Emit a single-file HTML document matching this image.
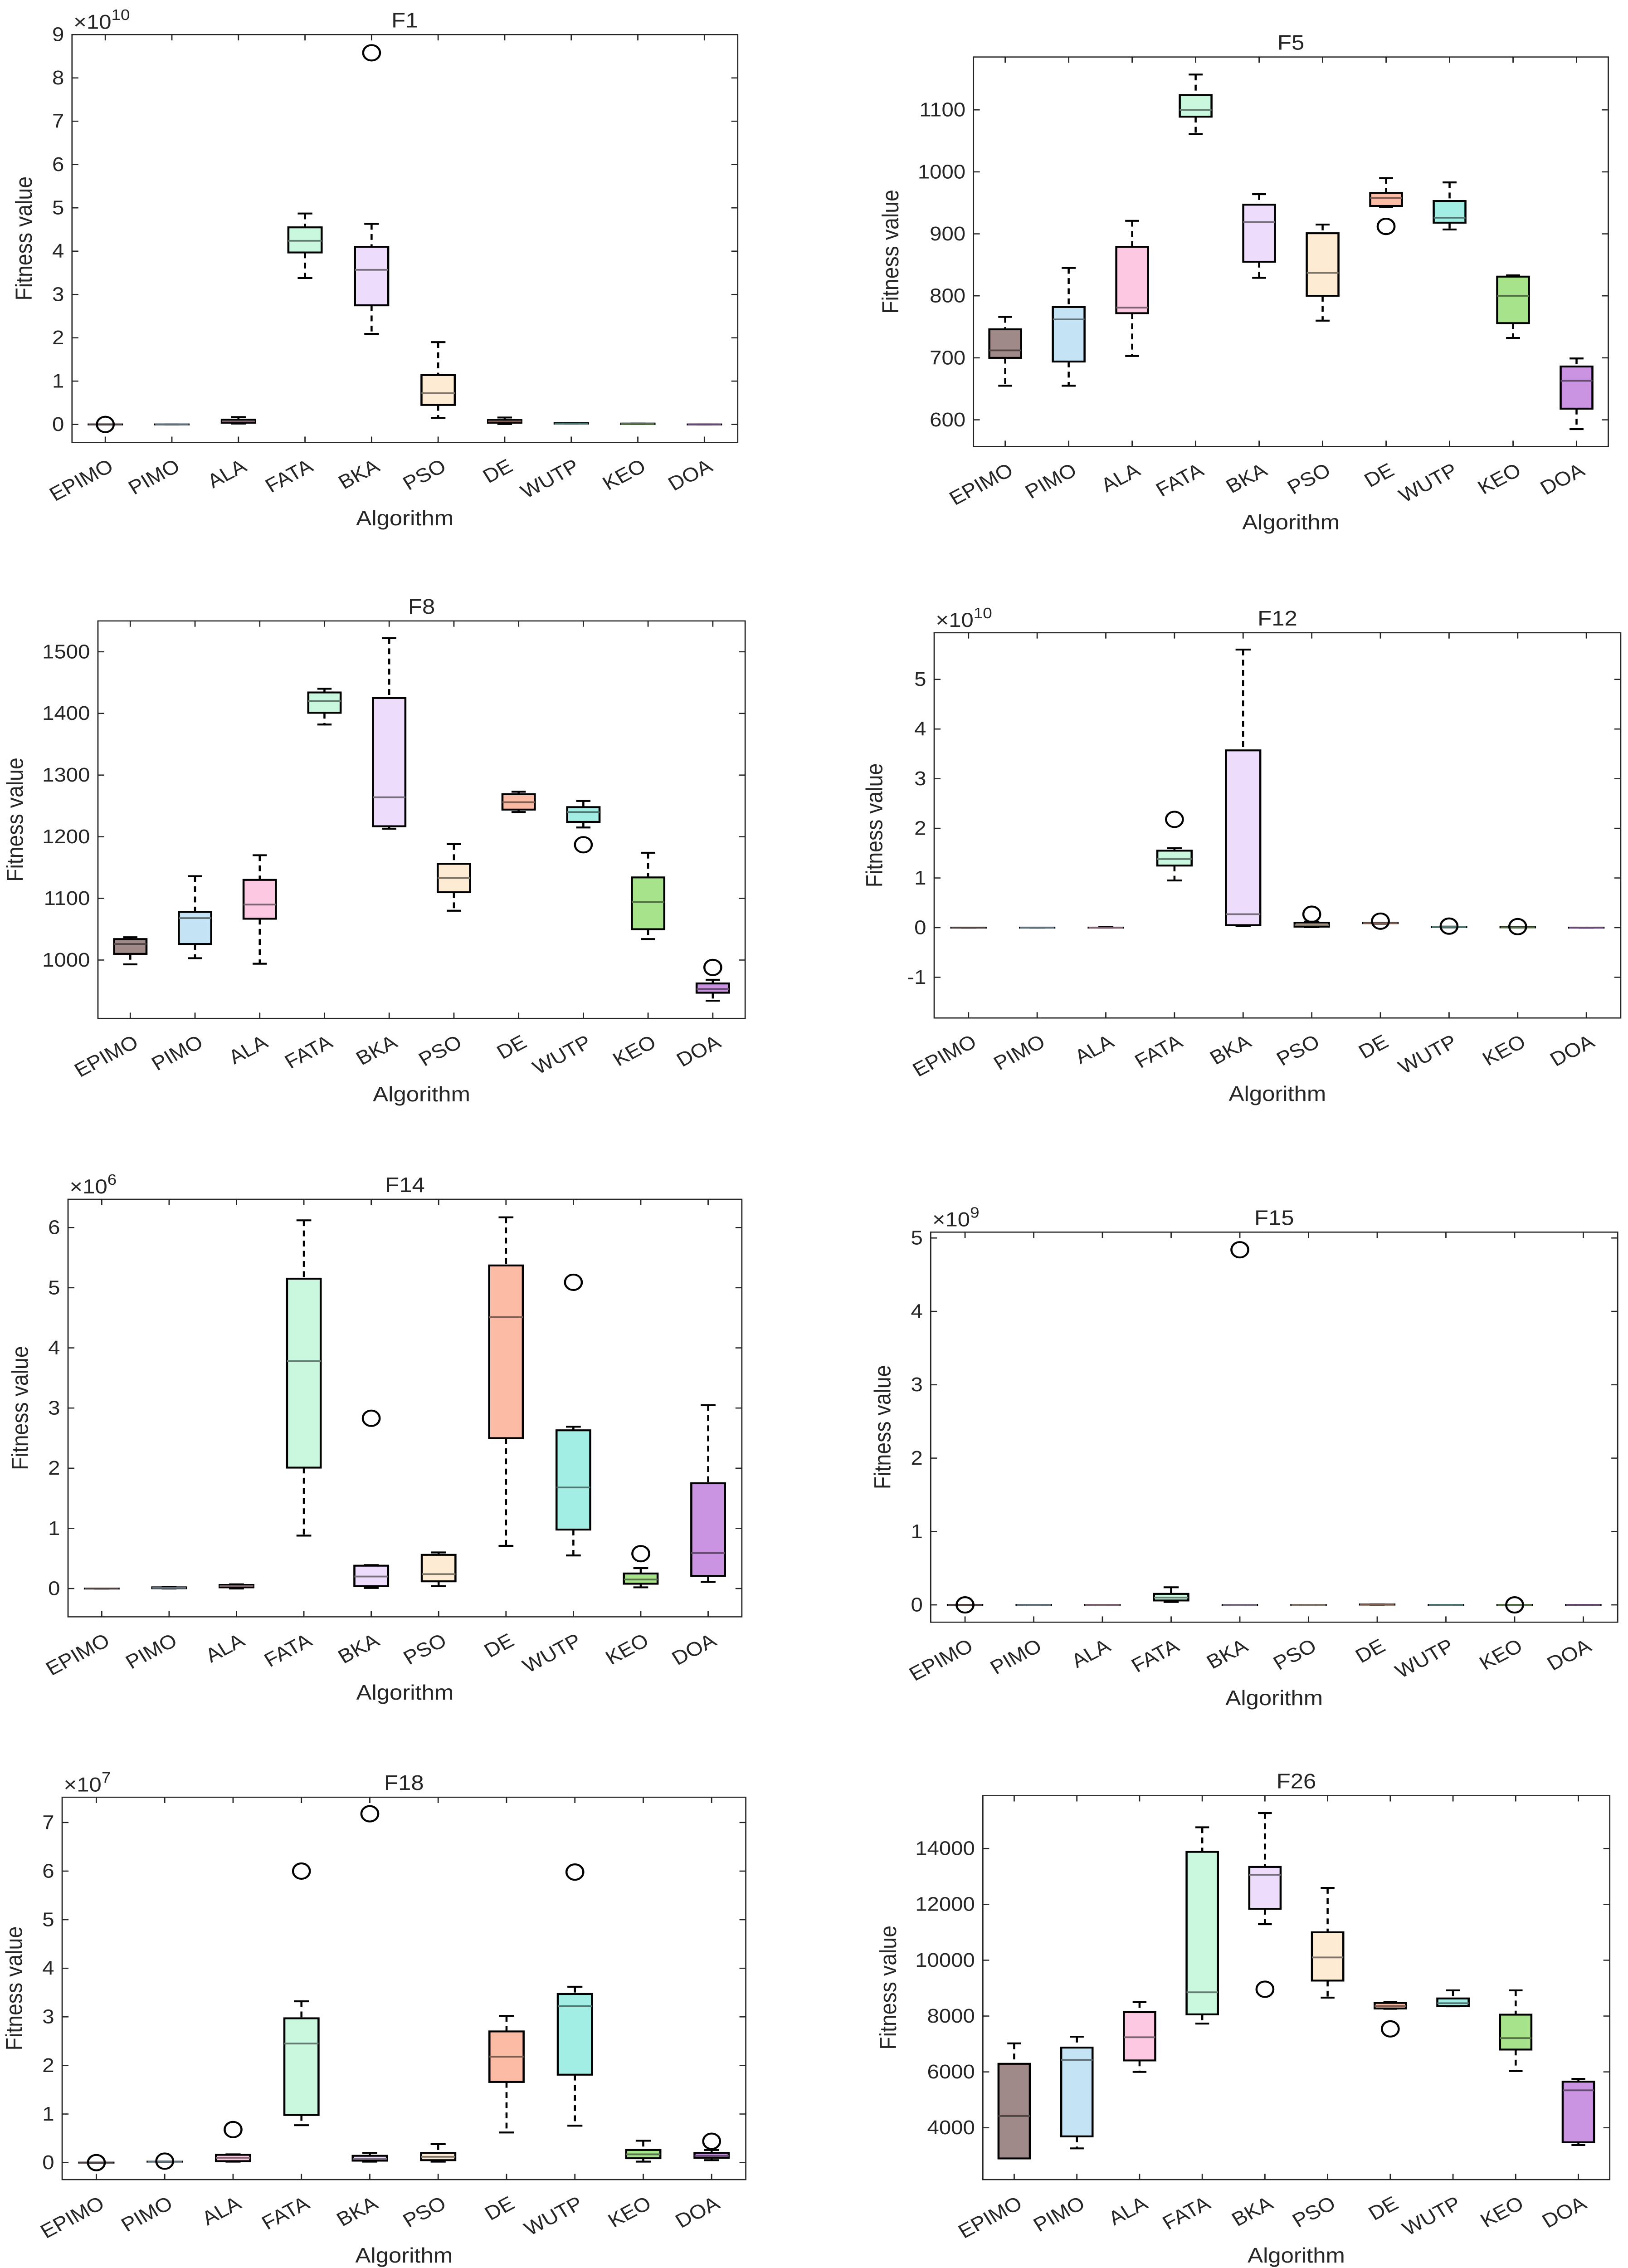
<!DOCTYPE html>
<html><head><meta charset="utf-8"><style>
html,body{margin:0;padding:0;background:#fff;width:100%;height:100%;overflow:hidden;}
svg{display:block;overflow:hidden;position:absolute;left:0;top:0;width:100vw;height:100vh;}
text{font-family:"Liberation Sans",Arial,sans-serif;fill:#262626;}
</style></head><body>
<svg id="fig" xmlns="http://www.w3.org/2000/svg" viewBox="0 0 1024 1560" preserveAspectRatio="none">
<rect width="1024" height="1560" fill="#fff"/>
</svg>
<script>
const categories = ["EPIMO","PIMO","ALA","FATA","BKA","PSO","DE","WUTP","KEO","DOA"];
const fills = ["#a08a89","#c4e4f5","#fcc8e2","#c9f8df","#eedcfc","#fdebd3","#fbbba4","#a2eee4","#a6e38a","#ca94e2"];

// F1 (x1e10)
const f1Lo  = [0,0,0.02,3.38,2.09,0.15,0.01,0.02,0.01,0];
const f1Q1  = [0,0,0.04,3.97,2.75,0.45,0.04,0.02,0.01,0];
const f1Med = [0,0,0.07,4.24,3.57,0.72,0.07,0.02,0.01,0];
const f1Q3  = [0,0,0.11,4.55,4.10,1.14,0.10,0.03,0.02,0];
const f1Hi  = [0,0,0.17,4.87,4.63,1.90,0.16,0.03,0.02,0];
const f1Out = [[0,0],[4,8.58]];
// F5
const f5Lo  = [655,655,703,1061,829,760,943,907,732,585];
const f5Q1  = [700,694,772,1089,855,800,945,918,756,618];
const f5Med = [712,762,781,1100,919,837,958,926,800,663];
const f5Q3  = [746,782,879,1124,947,901,966,953,831,686];
const f5Hi  = [766,845,921,1157,964,915,990,983,833,699];
const f5Out = [[6,912]];
// F8
const f8Lo  = [993,1003,994,1382,1213,1080,1240,1215,1034,934];
const f8Q1  = [1010,1026,1067,1401,1217,1110,1244,1224,1050,947];
const f8Med = [1026,1068,1090,1420,1264,1133,1256,1240,1094,953];
const f8Q3  = [1034,1078,1130,1434,1425,1156,1269,1248,1134,962];
const f8Hi  = [1037,1136,1170,1440,1522,1188,1273,1258,1174,968];
const f8Out = [[7,1187],[9,988]];
// F12 (x1e10)
const f12Lo  = [0,0,0,0.95,0.03,0.01,0.08,0.005,0.003,0];
const f12Q1  = [0,0,0,1.25,0.05,0.02,0.09,0.01,0.005,0];
const f12Med = [0,0,0,1.38,0.27,0.05,0.09,0.01,0.005,0];
const f12Q3  = [0,0,0,1.55,3.57,0.10,0.10,0.015,0.01,0];
const f12Hi  = [0,0,0.01,1.60,5.60,0.12,0.10,0.02,0.01,0];
const f12Out = [[3,2.18],[5,0.27],[6,0.13],[7,0.03],[8,0.02]];
// F14 (x1e6)
const f14Lo  = [0,0,0,0.88,0.01,0.04,0.71,0.55,0.02,0.11];
const f14Q1  = [0,0.005,0.02,2.01,0.04,0.12,2.50,0.98,0.08,0.21];
const f14Med = [0,0.01,0.04,3.78,0.20,0.24,4.51,1.68,0.15,0.59];
const f14Q3  = [0,0.02,0.06,5.15,0.38,0.56,5.37,2.63,0.25,1.75];
const f14Hi  = [0,0.03,0.07,6.12,0.39,0.60,6.17,2.69,0.34,3.05];
const f14Out = [[4,2.83],[7,5.09],[8,0.58]];
// F15 (x1e9)
const f15Lo  = [0,0,0,0.04,0,0,0.003,0,0,0];
const f15Q1  = [0,0,0,0.06,0,0,0.004,0,0,0];
const f15Med = [0,0,0,0.10,0,0,0.005,0,0,0];
const f15Q3  = [0,0,0,0.15,0,0,0.006,0,0,0];
const f15Hi  = [0,0,0,0.24,0,0,0.007,0,0,0];
const f15Out = [[0,0],[4,4.84],[8,0]];
// F18 (x1e7)
const f18Lo  = [0,0.02,0.02,0.77,0.02,0.02,0.62,0.76,0.02,0.05];
const f18Q1  = [0,0.02,0.03,0.98,0.04,0.05,1.66,1.81,0.09,0.10];
const f18Med = [0,0.02,0.10,2.45,0.08,0.12,2.18,3.22,0.17,0.14];
const f18Q3  = [0,0.02,0.16,2.97,0.14,0.20,2.70,3.47,0.26,0.20];
const f18Hi  = [0,0.02,0.17,3.32,0.20,0.38,3.02,3.62,0.45,0.26];
const f18Out = [[0,0],[1,0.03],[2,0.68],[3,6.0],[4,7.18],[7,5.98],[9,0.44]];
// F26
const f26Lo  = [2900,3260,6000,7730,11290,8660,8260,8350,6030,3380];
const f26Q1  = [2900,3690,6410,8060,11840,9270,8270,8360,6800,3480];
const f26Med = [4420,6430,7240,8850,13060,10100,8360,8460,7210,5340];
const f26Q3  = [6290,6870,8140,13880,13340,11000,8470,8630,8050,5650];
const f26Hi  = [7020,7260,8500,14760,15270,12590,8500,8920,8920,5750];
const f26Out = [[4,8960],[6,7540]];

const panels = [
 {t:"F1", L:45.3,R:464,T:23.8,B:304.3, y0:-0.415,y1:9, ticks:[0,1,2,3,4,5,6,7,8,9], exp:"10", d:[f1Lo,f1Q1,f1Med,f1Q3,f1Hi,f1Out]},
 {t:"F5", L:612.3,R:1011.6,T:39.2,B:307.1, y0:557,y1:1185.3, ticks:[600,700,800,900,1000,1100], exp:null, d:[f5Lo,f5Q1,f5Med,f5Q3,f5Hi,f5Out]},
 {t:"F8", L:61.6,R:468.7,T:427.1,B:700.5, y0:905.3,y1:1550, ticks:[1000,1100,1200,1300,1400,1500], exp:null, d:[f8Lo,f8Q1,f8Med,f8Q3,f8Hi,f8Out]},
 {t:"F12", L:587.6,R:1019.4,T:435.2,B:700.2, y0:-1.82,y1:5.94, ticks:[-1,0,1,2,3,4,5], exp:"10", d:[f12Lo,f12Q1,f12Med,f12Q3,f12Hi,f12Out]},
 {t:"F14", L:42.8,R:466.6,T:824.9,B:1112.1, y0:-0.47,y1:6.47, ticks:[0,1,2,3,4,5,6], exp:"6", d:[f14Lo,f14Q1,f14Med,f14Q3,f14Hi,f14Out]},
 {t:"F15", L:585.4,R:1017.5,T:847.5,B:1115.8, y0:-0.236,y1:5.08, ticks:[0,1,2,3,4,5], exp:"9", d:[f15Lo,f15Q1,f15Med,f15Q3,f15Hi,f15Out]},
 {t:"F18", L:39.1,R:469.1,T:1236.2,B:1499.2, y0:-0.35,y1:7.52, ticks:[0,1,2,3,4,5,6,7], exp:"7", d:[f18Lo,f18Q1,f18Med,f18Q3,f18Hi,f18Out]},
 {t:"F26", L:618.2,R:1012.5,T:1235.1,B:1499.2, y0:2142,y1:15894, ticks:[4000,6000,8000,10000,12000,14000], exp:null, d:[f26Lo,f26Q1,f26Med,f26Q3,f26Hi,f26Out]}
];

const NS = "http://www.w3.org/2000/svg";
const svg = document.getElementById("fig");
function mk(tag, attrs, parent){
  const e = document.createElementNS(NS, tag);
  for (const k in attrs) e.setAttribute(k, attrs[k]);
  (parent||svg).appendChild(e);
  return e;
}
function darken(hex, f){
  const n = parseInt(hex.slice(1),16);
  const r = Math.round(((n>>16)&255)*f), g = Math.round(((n>>8)&255)*f), b = Math.round((n&255)*f);
  return "rgb("+r+","+g+","+b+")";
}

panels.forEach(p => {
  const g = mk("g", {});
  
  
  const sx = (p.R - p.L) / 10;
  const xs = i => p.L + sx * (i + 0.5);
  const ys = v => p.B - (v - p.y0) / (p.y1 - p.y0) * (p.B - p.T);

  const frame = mk("rect", {x:p.L, y:p.T, width:p.R-p.L, height:p.B-p.T, fill:"none", stroke:"#262626", "stroke-width":0.8}, g);
  
  

  p.ticks.forEach(v => {
    const y = ys(v);
    mk("line", {x1:p.L, x2:p.L+4, y1:y, y2:y, stroke:"#262626", "stroke-width":0.8}, g);
    mk("line", {x1:p.R, x2:p.R-4, y1:y, y2:y, stroke:"#262626", "stroke-width":0.8}, g);
    const tl = mk("text", {x:p.L-5, y:y+4.5, "text-anchor":"end", "font-size":13.5}, g);
    tl.textContent = String(v);
    
    
  });
  categories.forEach((c, i) => {
    const x = xs(i);
    mk("line", {x1:x, x2:x, y1:p.B, y2:p.B-4, stroke:"#262626", "stroke-width":0.8}, g);
    mk("line", {x1:x, x2:x, y1:p.T, y2:p.T+4, stroke:"#262626", "stroke-width":0.8}, g);
    const ax = x + 6, ay = p.B + 19;
    const tl = mk("text", {x:ax, y:ay, "text-anchor":"end", "font-size":13.5, transform:"rotate(-30 "+ax+" "+ay+")"}, g);
    tl.textContent = c;
    
    
  });
  const title = mk("text", {x:(p.L+p.R)/2, y:p.T-5, "text-anchor":"middle", "font-size":14.5}, g);
  title.textContent = p.t;
  
  
  const xl = mk("text", {x:(p.L+p.R)/2, y:p.B+57, "text-anchor":"middle", "font-size":14.5}, g);
  xl.textContent = "Algorithm";
  
  
  const maxChars = Math.max(...p.ticks.map(v => String(v).length));
  const lx = p.L - (maxChars*7.3 + 18), ly = (p.T+p.B)/2;
  const yl = mk("text", {x:lx, y:ly, "text-anchor":"middle", "font-size":14.5, transform:"rotate(-90 "+lx+" "+ly+")"}, g);
  yl.textContent = "Fitness value";
  
  
  if (p.exp){
    const ex = mk("text", {x:p.L+1, y:p.T-4, "font-size":14}, g);
    ex.textContent = "×10";
    const sup = mk("tspan", {dy:-6, "font-size":10.5}, ex);
    sup.textContent = p.exp;
    
    
  }
  const [lo,q1,md,q3,hi,out] = p.d;
  const bw = sx*0.25, cw = sx*0.11;
  categories.forEach((c, i) => {
    const x = xs(i);
    const bg = mk("g", {}, g);
    
    
    mk("line", {x1:x, x2:x, y1:ys(hi[i]), y2:ys(q3[i]), stroke:"#000", "stroke-width":1.3, "stroke-dasharray":"4,3"}, bg);
    mk("line", {x1:x, x2:x, y1:ys(q1[i]), y2:ys(lo[i]), stroke:"#000", "stroke-width":1.3, "stroke-dasharray":"4,3"}, bg);
    mk("line", {x1:x-cw, x2:x+cw, y1:ys(hi[i]), y2:ys(hi[i]), stroke:"#000", "stroke-width":1.3}, bg);
    mk("line", {x1:x-cw, x2:x+cw, y1:ys(lo[i]), y2:ys(lo[i]), stroke:"#000", "stroke-width":1.3}, bg);
    const yt = ys(q3[i]), yb = ys(q1[i]);
    mk("rect", {x:x-bw, y:yt, width:2*bw, height:Math.max(yb-yt,0.01), fill:fills[i], stroke:"#000", "stroke-width":1.3}, bg);
    mk("line", {x1:x-bw, x2:x+bw, y1:ys(md[i]), y2:ys(md[i]), stroke:darken(fills[i],0.5), "stroke-width":1.2}, bg);
  });
  out.forEach(o => {
    const c = mk("circle", {cx:xs(o[0]), cy:ys(o[1]), r:5.3, fill:"none", stroke:"#000", "stroke-width":1.3}, g);
    
    
  });
});
</script>
</body></html>
